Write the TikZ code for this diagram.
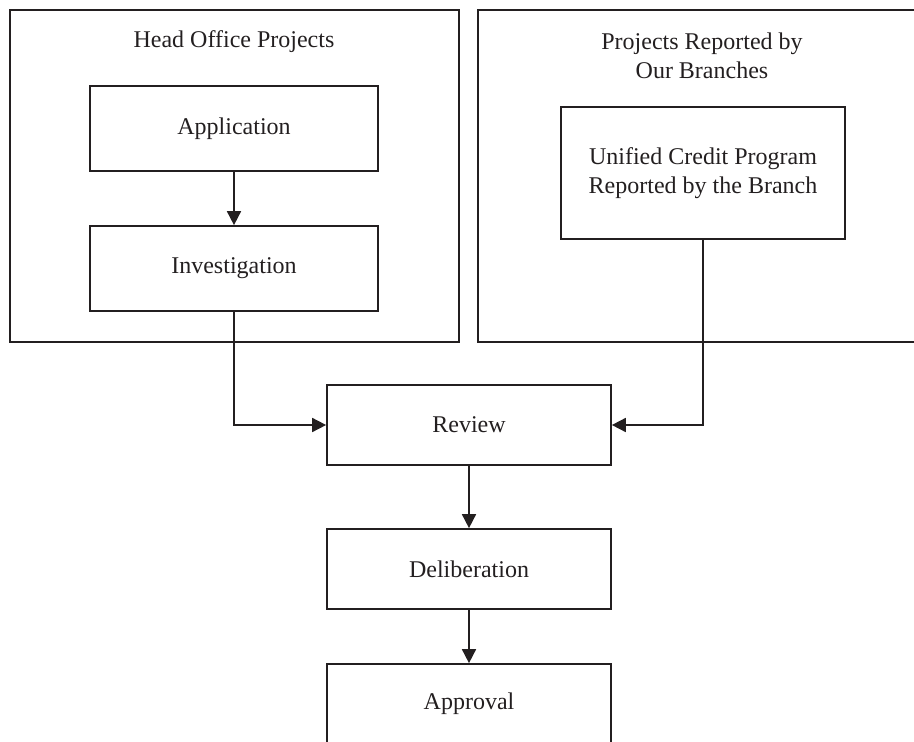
\documentclass[tikz,border=0pt]{standalone}
\usepackage{fontspec}
\setmainfont{Liberation Serif}
\usetikzlibrary{arrows.meta}
\definecolor{ink}{HTML}{231F20}
\begin{document}
\begin{tikzpicture}[x=1pt,y=-1pt,
  line width=1.7pt,
  every node/.style={font=\fontsize{24}{29}\selectfont, text=ink},
  frame/.style={draw=ink, rectangle, inner sep=0pt},
  stepbox/.style={frame, minimum width=284pt, minimum height=80pt, align=center},
  flow/.style={draw=ink, -{Triangle[length=14pt,width=14pt]}}
]
\useasboundingbox (0,0) rectangle (914,742);
\clip (0,0) rectangle (914,742);

% group frames
\node[frame, minimum width=449pt, minimum height=332pt] (head) at (234.5,176) {};
\node[frame, minimum width=452pt, minimum height=332pt] (branch) at (704,176) {};
\node (headtitle) at (234,42) {Head Office Projects};
\node[align=center] (branchtitle) at (702,56) {Projects Reported by\\Our Branches};

% process boxes
\node[frame, minimum width=288pt, minimum height=85pt] (app) at (234,128.5) {Application};
\node[frame, minimum width=288pt, minimum height=85pt] (inv) at (234,268.5) {Investigation};
\node[frame, minimum width=284pt, minimum height=132pt, align=center] (ucp) at (703,173) {Unified Credit Program\\Reported by the Branch};
\node[stepbox] (review) at (469,425) {Review};
\node[stepbox] (delib) at (469,569) {Deliberation};
\node[stepbox] (approval) at (469,704) {Approval};

% connectors
\draw[flow] (app) -- (inv);
\draw[flow] (inv.south) |- (review.west);
\draw[flow] (ucp.south) |- (review.east);
\draw[flow] (review) -- (delib);
\draw[flow] (delib) -- (approval);
\end{tikzpicture}
\end{document}
